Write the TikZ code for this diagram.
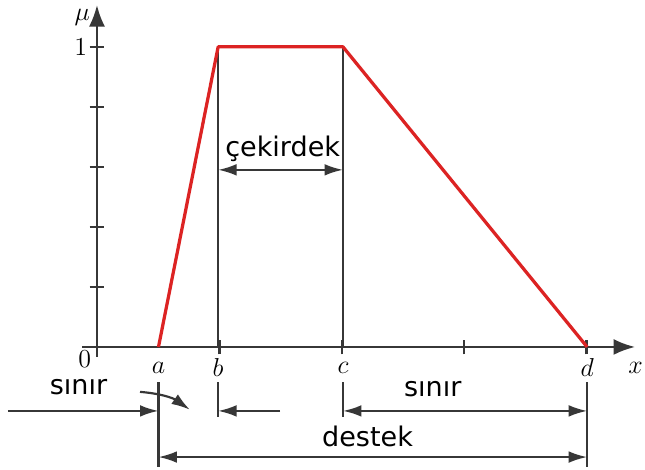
\documentclass[tikz,border=0pt]{standalone}
\usepackage{fontspec}
\newfontfamily\labelfont{DejaVu Sans}
\usetikzlibrary{arrows.meta, positioning}
\definecolor{axisgray}{RGB}{55, 55, 55}
\definecolor{fuzzyred}{RGB}{220, 35, 35}
\tikzset{
  axisline/.style={axisgray, line width=1.1pt},
  guide/.style={axisgray, line width=1pt},
  dim/.style={axisgray, line width=1pt, -{Latex[length=3mm,width=1.9mm]}},
  dimboth/.style={axisgray, line width=1pt, {Latex[length=3mm,width=1.9mm]}-{Latex[length=3mm,width=1.9mm]}},
  wordlabel/.style={font=\labelfont\fontsize{12.5}{14}\selectfont, inner sep=1pt},
  mathlabel/.style={font=\large, inner sep=1pt}
}

\begin{document}
\begin{tikzpicture}
  \useasboundingbox (-1.577,-2.0) rectangle (8.911,5.642);
  \fill[white] (-1.577,-2.0) rectangle (8.911,5.642);

  % eksen noktalari
  \coordinate (O) at (0,0);
  \coordinate (A) at (1,0);
  \coordinate (B) at (1.97,0);
  \coordinate (C) at (4,0);
  \coordinate (D) at (7.97,0);
  \coordinate (Btop) at (1.97,4.88);
  \coordinate (Ctop) at (4,4.88);

  % eksenler
  \draw[axisline, -{Latex[length=3.5mm,width=2.6mm]}] (-0.24,0) -- (8.75,0);
  \draw[axisline, -{Latex[length=3.5mm,width=2.6mm]}] (0,-0.16) -- (0,5.56);
  \foreach \k in {1,...,5}
    \draw[axisline] (-0.12,0.976*\k) -- (0.12,0.976*\k);
  \foreach \k in {2,4,6,8}
    \draw[axisline] (0.995*\k,-0.12) -- (0.995*\k,0.12);

  % eksen etiketleri
  \node[mathlabel] (mu) at (-0.24,5.36) {$\mu$};
  \node[mathlabel, left=0.12cm] (one) at (0,4.88) {$1$};
  \node[mathlabel] (zero) at (-0.2,-0.2) {$0$};
  \node[mathlabel] (la) at (1,-0.34) {$a$};
  \node[mathlabel] (lb) at (1.97,-0.34) {$b$};
  \node[mathlabel] (lc) at (4,-0.34) {$c$};
  \node[mathlabel] (ld) at (7.97,-0.34) {$d$};
  \node[mathlabel] (lx) at (8.76,-0.34) {$x$};

  % dikey kilavuz cizgiler
  \draw[guide] (Btop) -- (B);
  \draw[guide] (Ctop) -- (C);
  \coordinate (Blow) at (1.97,-0.57);
  \coordinate (Clow) at (4,-0.57);
  \coordinate (Alow) at (1,-0.57);
  \coordinate (Dlow) at (7.97,-0.57);
  \draw[guide] (Alow) -- ++(0,-1.38);
  \draw[guide] (Blow) -- ++(0,-0.57);
  \draw[guide] (Clow) -- ++(0,-0.57);
  \draw[guide] (Dlow) -- ++(0,-1.38);

  % yamuk uyelik fonksiyonu
  \draw[fuzzyred, line width=1.5pt, line join=round] (A) -- (Btop) -- (Ctop) -- (D);

  % cekirdek
  \draw[dimboth] (1.97,2.88) -- (4,2.88);
  \node[wordlabel] (core) at (3.02,3.22) {çekirdek};

  % sinir (sol)
  \coordinate (lstart) at (-1.45,-1.04);
  \coordinate (rstart) at (2.98,-1.04);
  \draw[dim] (lstart) -- (1,-1.04);
  \draw[dim] (rstart) -- (1.97,-1.04);
  \node[wordlabel] (bleft) at (-0.3,-0.66) {sınır};
  \draw[dim] (0.70,-0.73) to[bend left=15] (1.51,-1.02);

  % sinir (sag)
  \draw[dimboth] (4,-1.04) -- (7.97,-1.04);
  \node[wordlabel] (bright) at (5.46,-0.69) {sınır};

  % destek
  \draw[dimboth] (1,-1.79) -- (7.97,-1.79);
  \node[wordlabel] (support) at (4.4,-1.45) {destek};
\end{tikzpicture}
\end{document}
